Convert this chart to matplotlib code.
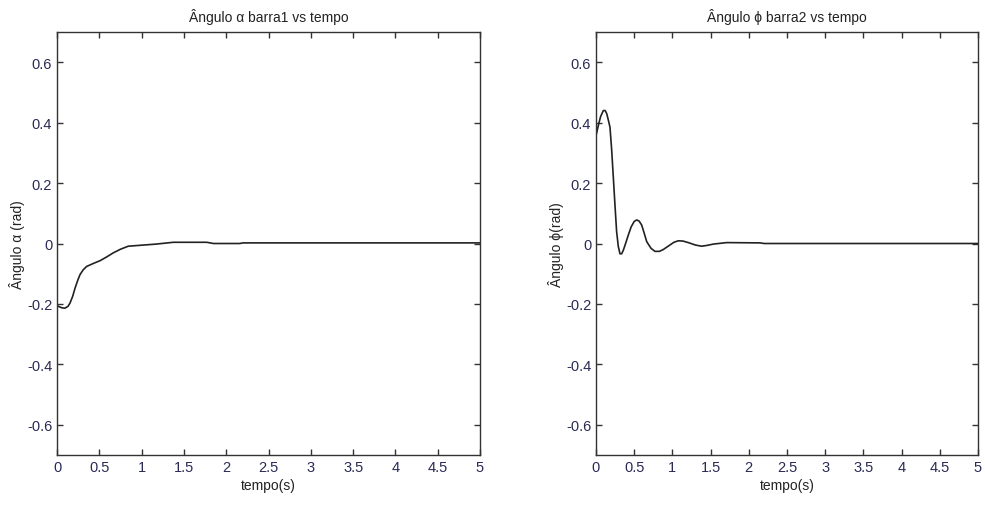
import matplotlib
matplotlib.use("Agg")
import matplotlib.pyplot as plt
from matplotlib import font_manager

names = {f.name for f in font_manager.fontManager.ttflist}
fam = "Liberation Sans Narrow" if "Liberation Sans Narrow" in names else "Liberation Sans"
plt.rcParams['font.family'] = [fam, 'DejaVu Sans']

# Left plot data: alpha (rad) vs time (s)
t_alpha = [0.0, 0.015, 0.06, 0.095, 0.13, 0.154, 0.185, 0.213, 0.245, 0.272, 0.31, 0.35, 0.43,
           0.508, 0.59, 0.665, 0.75, 0.842, 0.98, 1.17, 1.375, 1.77, 1.85, 2.16, 2.2, 3.0, 4.0, 5.0]
alpha = [-0.205, -0.208, -0.213, -0.214, -0.208, -0.197, -0.175, -0.148, -0.122, -0.103, -0.087, -0.076, -0.066,
         -0.057, -0.044, -0.031, -0.019, -0.009, -0.006, -0.002, 0.004, 0.004, 0.0, 0.0, 0.002, 0.002, 0.002, 0.002]

# Right plot data: phi (rad) vs time (s)
t_phi = [0.0, 0.03, 0.06, 0.096, 0.12, 0.14, 0.16, 0.183, 0.205, 0.227, 0.25, 0.27, 0.292, 0.314, 0.336,
         0.358, 0.39, 0.423, 0.46, 0.5, 0.533, 0.565, 0.598, 0.63, 0.664, 0.72, 0.772, 0.83, 0.88,
         0.95, 1.02, 1.077, 1.14, 1.208, 1.3, 1.383, 1.46, 1.535, 1.71, 2.15, 2.2, 3.0, 4.0, 5.0]
phi = [0.357, 0.39, 0.42, 0.44, 0.44, 0.43, 0.41, 0.385, 0.31, 0.218, 0.12, 0.039, -0.01, -0.034, -0.034,
       -0.022, 0.002, 0.028, 0.055, 0.073, 0.078, 0.074, 0.061, 0.035, 0.006, -0.016, -0.026, -0.026, -0.02,
       -0.008, 0.004, 0.009, 0.008, 0.003, -0.005, -0.009, -0.006, -0.002, 0.003, 0.002, 0.0, 0.0, 0.0, 0.0]

xticks = [0, 0.5, 1, 1.5, 2, 2.5, 3, 3.5, 4, 4.5, 5]
xticklabels = ['0', '0.5', '1', '1.5', '2', '2.5', '3', '3.5', '4', '4.5', '5']
yticks = [-0.6, -0.4, -0.2, 0, 0.2, 0.4, 0.6]
yticklabels = ['-0.6', '-0.4', '-0.2', '0', '0.2', '0.4', '0.6']

titles = ['Ângulo α barra1 vs tempo', 'Ângulo ϕ barra2 vs tempo']
ylabels = ['Ângulo α (rad)', 'Ângulo ϕ(rad)']
xlabel = 'tempo(s)'

fig = plt.figure(figsize=(9.85, 5.06), dpi=100)
ax1 = fig.add_axes([57/985, 1-456/506, 423/985, 423/506])
ax2 = fig.add_axes([596/985, 1-456/506, 382/985, 423/506])

tick_color = '#2a2a55'
for ax, t, v, title, yl in [(ax1, t_alpha, alpha, titles[0], ylabels[0]),
                            (ax2, t_phi, phi, titles[1], ylabels[1])]:
    ax.plot(t, v, color='#222222', lw=1.2)
    ax.set_xlim(0, 5)
    ax.set_ylim(-0.7, 0.7)
    ax.set_xticks(xticks)
    ax.set_xticklabels(xticklabels)
    ax.set_yticks(yticks)
    ax.set_yticklabels(yticklabels)
    ax.tick_params(direction='in', top=True, right=True, length=4, width=1,
                   labelsize=10.5, labelcolor=tick_color, color='#333333')
    for s in ax.spines.values():
        s.set_color('#333333')
        s.set_linewidth(1.0)
    ax.set_title(title, fontsize=10, color='#222222', pad=8)
    ax.set_xlabel(xlabel, fontsize=10, color='#222222', labelpad=3)
    ax.set_ylabel(yl, fontsize=10, color='#222222', labelpad=1)

fig.savefig('out.png', dpi=100)
